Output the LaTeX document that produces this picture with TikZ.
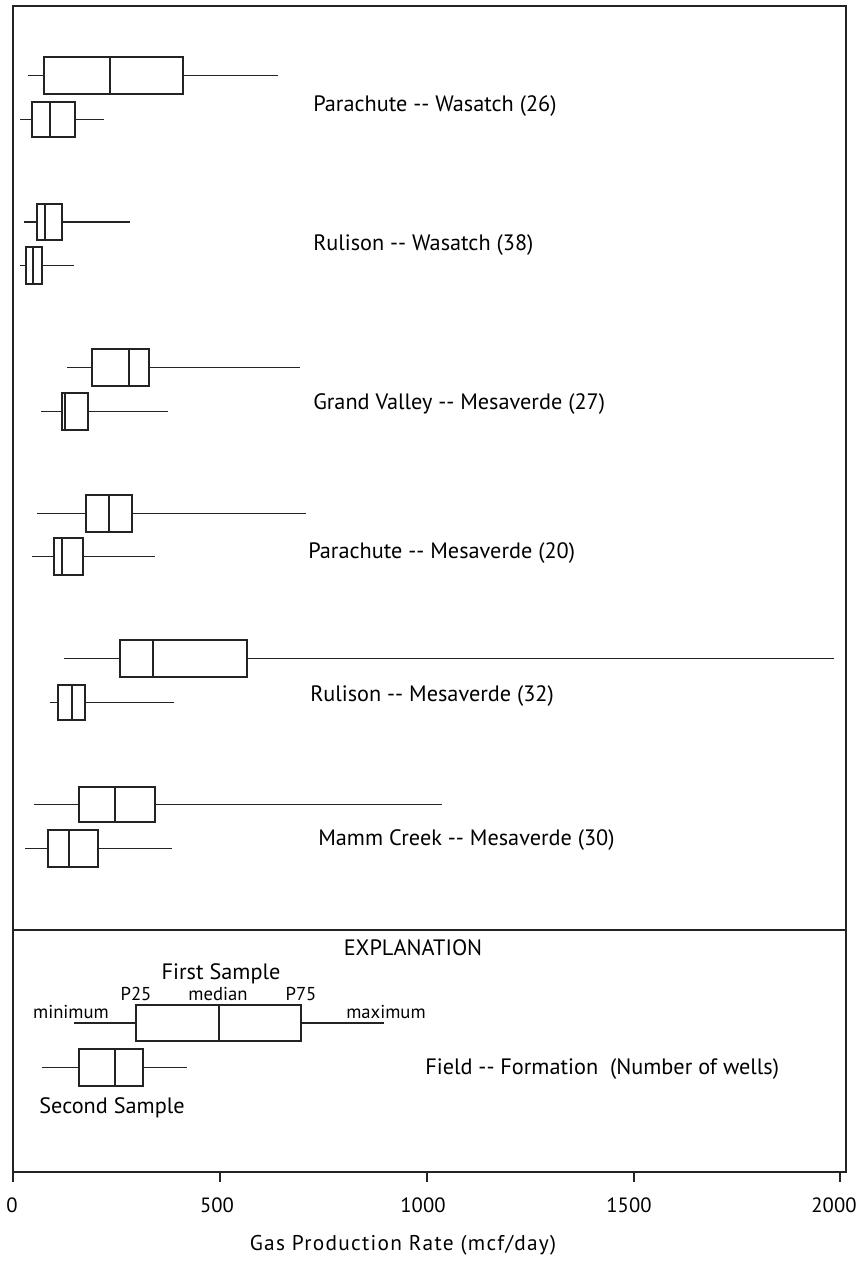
\documentclass[tikz,border=0pt]{standalone}
\usepackage{fontspec}
\setmainfont{PT Sans}
\newfontfamily\widefont[LetterSpace=6]{PT Sans}
\begin{document}
\begin{tikzpicture}[x=0.75pt,y=0.75pt,yscale=-1,xscale=1]
\useasboundingbox (0,0) rectangle (862,1270);
\tikzset{
  boxline/.style={color={rgb, 255:red, 35; green, 35; blue, 35 }, draw opacity=1, line width=0.8pt},
  boxrect/.style={boxline, fill=white, fill opacity=1},
  lbl/.style={inner sep=0pt, font=\fontsize{16.7}{19}\selectfont},
  smalllbl/.style={inner sep=0pt, font=\fontsize{14}{16}\selectfont},
  ticklbl/.style={inner sep=0pt, font=\fontsize{15.5}{18}\selectfont},
  axislbl/.style={inner sep=0pt, font=\widefont\fontsize{16}{19}\selectfont}
}
%Shape: Frame
\draw [boxline] (13,6) -- (846,6) -- (846,1172) -- (13,1172) -- cycle ;
%Straight Lines (separator)
\draw [boxline, line width=1.5pt] (13,929.5) -- (846,929.5) ;
%Ticks
\foreach \tx in {13,220,427,634,840} {
  \draw [boxline] (\tx,1172) -- (\tx,1182) ;
}

%Parachute -- Wasatch
\draw [boxline] (28,75.5) -- (278,75.5) ;
\draw [boxrect] (44,57) rectangle (183,94) ;
\draw [boxline] (110,57) -- (110,94) ;
\draw [boxline] (20,119.5) -- (104,119.5) ;
\draw [boxrect] (32,102) rectangle (75,137) ;
\draw [boxline] (50,102) -- (50,137) ;
%Rulison -- Wasatch
\draw [boxline] (24,222) -- (130,222) ;
\draw [boxrect] (37,204) rectangle (62,240) ;
\draw [boxline] (45,204) -- (45,240) ;
\draw [boxline] (20,265.5) -- (74,265.5) ;
\draw [boxrect] (26,247) rectangle (42,284) ;
\draw [boxline] (33,247) -- (33,284) ;
%Grand Valley -- Mesaverde
\draw [boxline] (67,367.5) -- (300,367.5) ;
\draw [boxrect] (92,349) rectangle (149,386) ;
\draw [boxline] (129,349) -- (129,386) ;
\draw [boxline] (41,411.5) -- (168,411.5) ;
\draw [boxrect] (62,393) rectangle (88,430) ;
\draw [boxline] (65,393) -- (65,430) ;
%Parachute -- Mesaverde
\draw [boxline] (37,513.5) -- (306,513.5) ;
\draw [boxrect] (86,495) rectangle (132,532) ;
\draw [boxline] (109,495) -- (109,532) ;
\draw [boxline] (32,556.5) -- (155,556.5) ;
\draw [boxrect] (54,538) rectangle (83,575) ;
\draw [boxline] (62,538) -- (62,575) ;
%Rulison -- Mesaverde
\draw [boxline] (64,658.5) -- (834,658.5) ;
\draw [boxrect] (120,640) rectangle (247,677) ;
\draw [boxline] (153,640) -- (153,677) ;
\draw [boxline] (50,702.5) -- (174,702.5) ;
\draw [boxrect] (58,685) rectangle (85,720) ;
\draw [boxline] (72,685) -- (72,720) ;
%Mamm Creek -- Mesaverde
\draw [boxline] (34,804.5) -- (442,804.5) ;
\draw [boxrect] (79,787) rectangle (155,822) ;
\draw [boxline] (115,787) -- (115,822) ;
\draw [boxline] (25,848.5) -- (172,848.5) ;
\draw [boxrect] (48,830) rectangle (98,867) ;
\draw [boxline] (69,830) -- (69,867) ;
%Explanation boxes
\draw [boxline] (74,1023) -- (384,1023) ;
\draw [boxrect] (136,1005) rectangle (301,1041) ;
\draw [boxline] (219,1005) -- (219,1041) ;
\draw [boxline] (42,1067.5) -- (187,1067.5) ;
\draw [boxrect] (79,1049) rectangle (143,1086) ;
\draw [boxline] (115,1049) -- (115,1086) ;

% Text Node
\draw (313,111) node (lblPW) [anchor=base west][lbl] {Parachute -{}- Wasatch (26)};
% Text Node
\draw (313,250) node (lblRW) [anchor=base west][lbl] {Rulison -{}- Wasatch (38)};
% Text Node
\draw (313,409) node (lblGV) [anchor=base west][lbl] {Grand Valley -{}- Mesaverde (27)};
% Text Node
\draw (308,558) node (lblPM) [anchor=base west][lbl] {Parachute -{}- Mesaverde (20)};
% Text Node
\draw (310,701) node (lblRM) [anchor=base west][lbl] {Rulison -{}- Mesaverde (32)};
% Text Node
\draw (318,845) node (lblMC) [anchor=base west][lbl] {Mamm Creek -{}- Mesaverde (30)};
% Text Node
\draw (413,955) node (expl) [anchor=base][lbl] {EXPLANATION};
% Text Node
\draw (221,979) node (first) [anchor=base][lbl] {First Sample};
% Text Node
\draw (112,1113) node (second) [anchor=base][lbl] {Second Sample};
% Text Node
\draw (136,1000) node (p25) [anchor=base][smalllbl] {P25};
% Text Node
\draw (218,1000) node (med) [anchor=base][smalllbl] {median};
% Text Node
\draw (301,1000) node (p75) [anchor=base][smalllbl] {P75};
% Text Node
\draw (71,1018) node (mini) [anchor=base][smalllbl] {minimum};
% Text Node
\draw (386,1018) node (maxi) [anchor=base][smalllbl] {maximum};
% Text Node
\draw (425,1074) node (fieldform) [anchor=base west][lbl] {Field -{}- Formation\ \ (Number of wells)};
% Text Node
\draw (12,1212) node (t0) [anchor=base][ticklbl] {0};
% Text Node
\draw (217,1212) node (t500) [anchor=base][ticklbl] {500};
% Text Node
\draw (423,1212) node (t1000) [anchor=base][ticklbl] {1000};
% Text Node
\draw (629,1212) node (t1500) [anchor=base][ticklbl] {1500};
% Text Node
\draw (834,1212) node (t2000) [anchor=base][ticklbl] {2000};
% Text Node
\draw (403,1250) node (xtitle) [anchor=base][axislbl] {Gas Production Rate (mcf/day)};
\end{tikzpicture}
\end{document}
